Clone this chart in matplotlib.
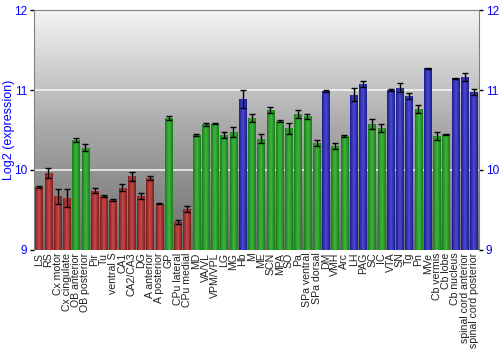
import numpy as np
import matplotlib
matplotlib.use("Agg")
import matplotlib.pyplot as plt
from matplotlib.colors import LinearSegmentedColormap

plt.rcParams["font.family"] = ["Liberation Sans", "DejaVu Sans"]

regions = ["LS", "RS", "Cx motor", "Cx cingulate", "OB anterior", "OB posterior",
           "Pir", "Tu", "ventral S", "CA1", "CA2/CA3", "DG", "A anterior",
           "A posterior", "GP", "CPu lateral", "CPu medial", "MD", "VA/VL",
           "VPM/VPL", "LG", "MG", "Hb", "M", "ME", "SCN", "MPA", "SO", "Pa",
           "SPa ventral", "SPa dorsal", "DM", "VMH", "Arc", "LH", "PAG", "SC",
           "IC", "VTA", "SN", "Tg", "Pn", "MVe", "Cb vermis", "Cb lobe",
           "Cb nucleus", "spinal cord anterior", "spinal cord posterior"]
expression = [9.79, 9.96, 9.67, 9.65, 10.375, 10.28, 9.74, 9.675, 9.625, 9.78,
              9.92, 9.675, 9.90, 9.58, 10.65, 9.35, 9.51, 10.44, 10.57, 10.58,
              10.44, 10.475, 10.89, 10.65, 10.39, 10.75, 10.61, 10.52, 10.70,
              10.67, 10.34, 10.99, 10.30, 10.425, 10.94, 11.075, 10.575, 10.525,
              11.00, 11.03, 10.925, 10.76, 11.27, 10.43, 10.445, 11.145, 11.16,
              10.975]
error = [0.01, 0.06, 0.09, 0.11, 0.03, 0.04, 0.03, 0.01, 0.01, 0.04, 0.06,
         0.04, 0.02, 0.01, 0.03, 0.03, 0.035, 0.01, 0.02, 0.01, 0.04, 0.065,
         0.11, 0.05, 0.055, 0.035, 0.01, 0.065, 0.045, 0.03, 0.04, 0.01, 0.035,
         0.01, 0.08, 0.035, 0.06, 0.055, 0.01, 0.055, 0.04, 0.05, 0.01, 0.05,
         0.01, 0.01, 0.05, 0.035]
group = ["r", "r", "r", "r", "g", "g", "r", "r", "r", "r", "r", "r", "r", "r",
         "g", "r", "r", "g", "g", "g", "g", "g", "b", "g", "g", "g", "g", "g",
         "g", "g", "g", "b", "g", "g", "b", "b", "g", "g", "b", "b", "b", "g",
         "b", "g", "g", "b", "b", "b"]

# dark edge / light centre for each colour group
palette = {
    "r": ("#7a1e1e", "#c84a4a"),
    "g": ("#1d7a1d", "#3cb83c"),
    "b": ("#1c1c8c", "#4a4ad0"),
}

fig = plt.figure(figsize=(5, 3.5), dpi=100)
ax = fig.add_axes([0.068, 0.286, 0.89, 0.685])

# background gradient
bg = LinearSegmentedColormap.from_list("bg", ["#6c6c6c", "#a8a8a8", "#f4f4f4"])
ax.imshow(np.linspace(0, 1, 256).reshape(-1, 1), cmap=bg, origin="lower",
          aspect="auto", extent=[0, 1, 0, 1], transform=ax.transAxes, zorder=0)

x = np.arange(len(regions))
bars = ax.bar(x, np.array(expression) - 9, bottom=9, width=0.8, zorder=2,
              linewidth=0)
grad = np.abs(np.linspace(-1, 1, 64)).reshape(1, -1)
for b, g in zip(bars, group):
    dark, light = palette[g]
    cm = LinearSegmentedColormap.from_list("c", [light, dark])
    b.set_facecolor(light)
    im = ax.imshow(grad, cmap=cm, aspect="auto", zorder=2.5,
                   extent=[b.get_x(), b.get_x() + b.get_width(), 9, b.get_y() + b.get_height()])
    im.set_clip_path(b)

ax.errorbar(x, expression, yerr=error, fmt="none", ecolor="black", elinewidth=1,
            capsize=2.2, capthick=1, zorder=4)

for yv in (10, 11):
    ax.axhline(yv, color="white", lw=1.2, alpha=0.85, zorder=1)

ax.set_xlim(-0.55, len(regions) - 0.45)
ax.set_ylim(9, 12)
ax.set_yticks([9, 10, 11, 12])
ax.tick_params(axis="y", colors="black", labelcolor="#0000ff", labelsize=8.5,
               left=True, right=True, labelleft=True, labelright=True,
               length=3, width=1, pad=2)
ax.set_xticks(x)
ax.set_xticklabels(regions, rotation=90, fontsize=7.6, color="#222222")
ax.tick_params(axis="x", length=0, pad=2)
fig.text(0.018, 0.63, "Log2 (expression)", color="#0000ff", fontsize=9,
         rotation=90, ha="center", va="center")
for s in ("left", "right", "top"):
    ax.spines[s].set_color("#808080")
ax.spines["bottom"].set_visible(False)

fig.savefig("out.png", dpi=100)
